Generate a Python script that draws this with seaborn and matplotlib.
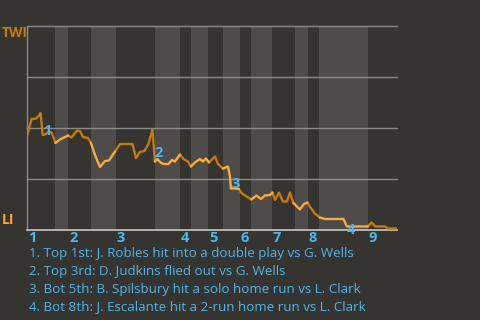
import matplotlib
matplotlib.use("Agg")
import matplotlib.pyplot as plt
import pandas as pd
import seaborn as sns

# ---- data ----
progress = [0.0, 1.125, 2.25, 3.125, 3.375, 3.925, 4.75, 5.375, 6.25, 7.125, 8.25, 9.25,
            10.25, 11.125, 12.5, 13.25, 14.0, 15.25, 16.0, 17.0, 18.25, 19.5, 20.5, 22.0,
            23.25, 26.375, 27.25, 28.25, 29.375, 30.375, 31.375, 32.0, 32.625, 33.375,
            34.125, 35.375, 36.25, 37.0, 38.25, 39.125, 40.25, 41.0, 42.0, 43.25, 44.0,
            44.75, 45.5, 47.0, 47.75, 49.0, 50.25, 50.75, 51.0, 52.0, 53.0, 53.5, 54.875,
            56.125, 57.375, 58.5, 59.5, 60.75, 61.375, 62.0, 63.0, 64.0, 65.0, 65.75,
            66.625, 67.5, 68.25, 69.25, 70.125, 70.875, 72.0, 73.25, 74.5, 79.125, 80.0,
            85.25, 86.125, 87.125, 89.5, 90.25, 92.375]
leverage = [1.843, 2.176, 2.186, 2.255, 2.294, 1.863, 1.882, 1.931, 1.902, 1.706, 1.775,
            1.814, 1.853, 1.814, 1.951, 1.941, 1.824, 1.804, 1.706, 1.471, 1.235, 1.353,
            1.363, 1.539, 1.686, 1.686, 1.412, 1.529, 1.549, 1.686, 1.971, 1.343, 1.392,
            1.324, 1.294, 1.294, 1.373, 1.343, 1.480, 1.392, 1.343, 1.245, 1.324, 1.392,
            1.343, 1.402, 1.324, 1.441, 1.294, 1.206, 1.245, 1.049, 0.814, 0.814, 0.804,
            0.735, 0.657, 0.598, 0.676, 0.608, 0.676, 0.686, 0.735, 0.588, 0.735, 0.559,
            0.559, 0.735, 0.529, 0.461, 0.402, 0.510, 0.539, 0.441, 0.324, 0.245, 0.216,
            0.216, 0.069, 0.069, 0.147, 0.069, 0.069, 0.029, 0.029]
inning_starts = [0, 10.25, 22.25, 38.25, 45.25, 53.25, 61.25, 70.25, 85.25]
inning_labels = ["1", "2", "3", "4", "5", "6", "7", "8", "9"]
bottom_halves = [(7, 10.25), (16, 22.25), (32, 38.25), (41, 45.25), (49, 53.25),
                 (56, 61.25), (67, 70.25), (73, 85.25)]
x_end = 92.4
event_ids = ["1", "2", "3", "4"]
event_x = [5.0, 33.0, 52.1, 81.1]
event_y = [1.94, 1.51, 0.90, 0.0]
event_texts = [
    "1. Top 1st: J. Robles hit into a double play vs G. Wells",
    "2. Top 3rd: D. Judkins flied out vs G. Wells",
    "3. Bot 5th: B. Spilsbury hit a solo home run vs L. Clark",
    "4. Bot 8th: J. Escalante hit a 2-run home run vs L. Clark",
]

BG = "#363430"
BAND = "#4d4c4a"
GRID = "#8a8a88"
DARK = "#c47a0e"
LIGHT = "#fbaa3c"
BLUE = "#4db6ea"

sns.set_style("dark", {"axes.facecolor": BG, "figure.facecolor": BG})
plt.rcParams["font.family"] = ["Open Sans", "DejaVu Sans"]

fig = plt.figure(figsize=(4.8, 3.2), dpi=100)
ax = fig.add_axes([27 / 480, 90 / 320, 369.5 / 480, 204 / 320])
ax.set_facecolor(BG)


def half_of(x):
    for a, b in bottom_halves:
        if a <= x < b:
            return "bottom"
    return "top"


rows = []
seg = -1
prev = None
for i in range(1, len(progress)):
    h = half_of((progress[i - 1] + progress[i]) / 2)
    if h != prev:
        seg += 1
        rows.append((seg, h, progress[i - 1], leverage[i - 1]))
        prev = h
    rows.append((seg, h, progress[i], leverage[i]))
df = pd.DataFrame(rows, columns=["seg", "half", "x", "y"])

for a, b in bottom_halves:
    ax.axvspan(a, b, color=BAND, lw=0, zorder=0)
for g in [1, 2, 3, 4]:
    ax.axhline(g, color=GRID, lw=1, zorder=1, clip_on=False)

sns.lineplot(data=df, x="x", y="y", hue="half", units="seg", estimator=None,
             sort=False, palette={"top": DARK, "bottom": LIGHT}, legend=False,
             lw=1.7, ax=ax, zorder=3)

ax.set_xlim(0, x_end)
ax.set_ylim(0, 4)
ax.set_xticks([])
ax.set_yticks([])
ax.set_xlabel("")
ax.set_ylabel("")
ax.grid(False)
for s in ["top", "right"]:
    ax.spines[s].set_visible(False)
ax.spines["left"].set_color(GRID)
ax.spines["left"].set_linewidth(1)
ax.spines["bottom"].set_color("#c8c8c6")
ax.spines["bottom"].set_linewidth(1.2)

for x, lab in zip(inning_starts, inning_labels):
    ax.annotate(lab, xy=(x, 0), xycoords=("data", "axes fraction"),
                xytext=(1, -1), textcoords="offset pixels", ha="left", va="top",
                color=BLUE, fontsize=10.5, fontweight="bold")

for lab, x, y in zip(event_ids, event_x, event_y):
    ax.text(x, y, lab, color=BLUE, fontsize=10.5, fontweight="bold",
            ha="center", va="center", zorder=5, clip_on=False)

fig.text(2 / 480, 1 - 33 / 320, "TWI", color=DARK, fontsize=10,
         fontweight="bold", ha="left", va="center")
fig.text(2 / 480, 1 - 220 / 320, "LI", color=LIGHT, fontsize=10,
         fontweight="bold", ha="left", va="center")

for k, t in enumerate(event_texts):
    fig.text(29 / 480, 1 - (253 + 18 * k) / 320, t, color=BLUE, fontsize=9.6,
             ha="left", va="center")

fig.savefig("out.png", dpi=100, facecolor=BG)
